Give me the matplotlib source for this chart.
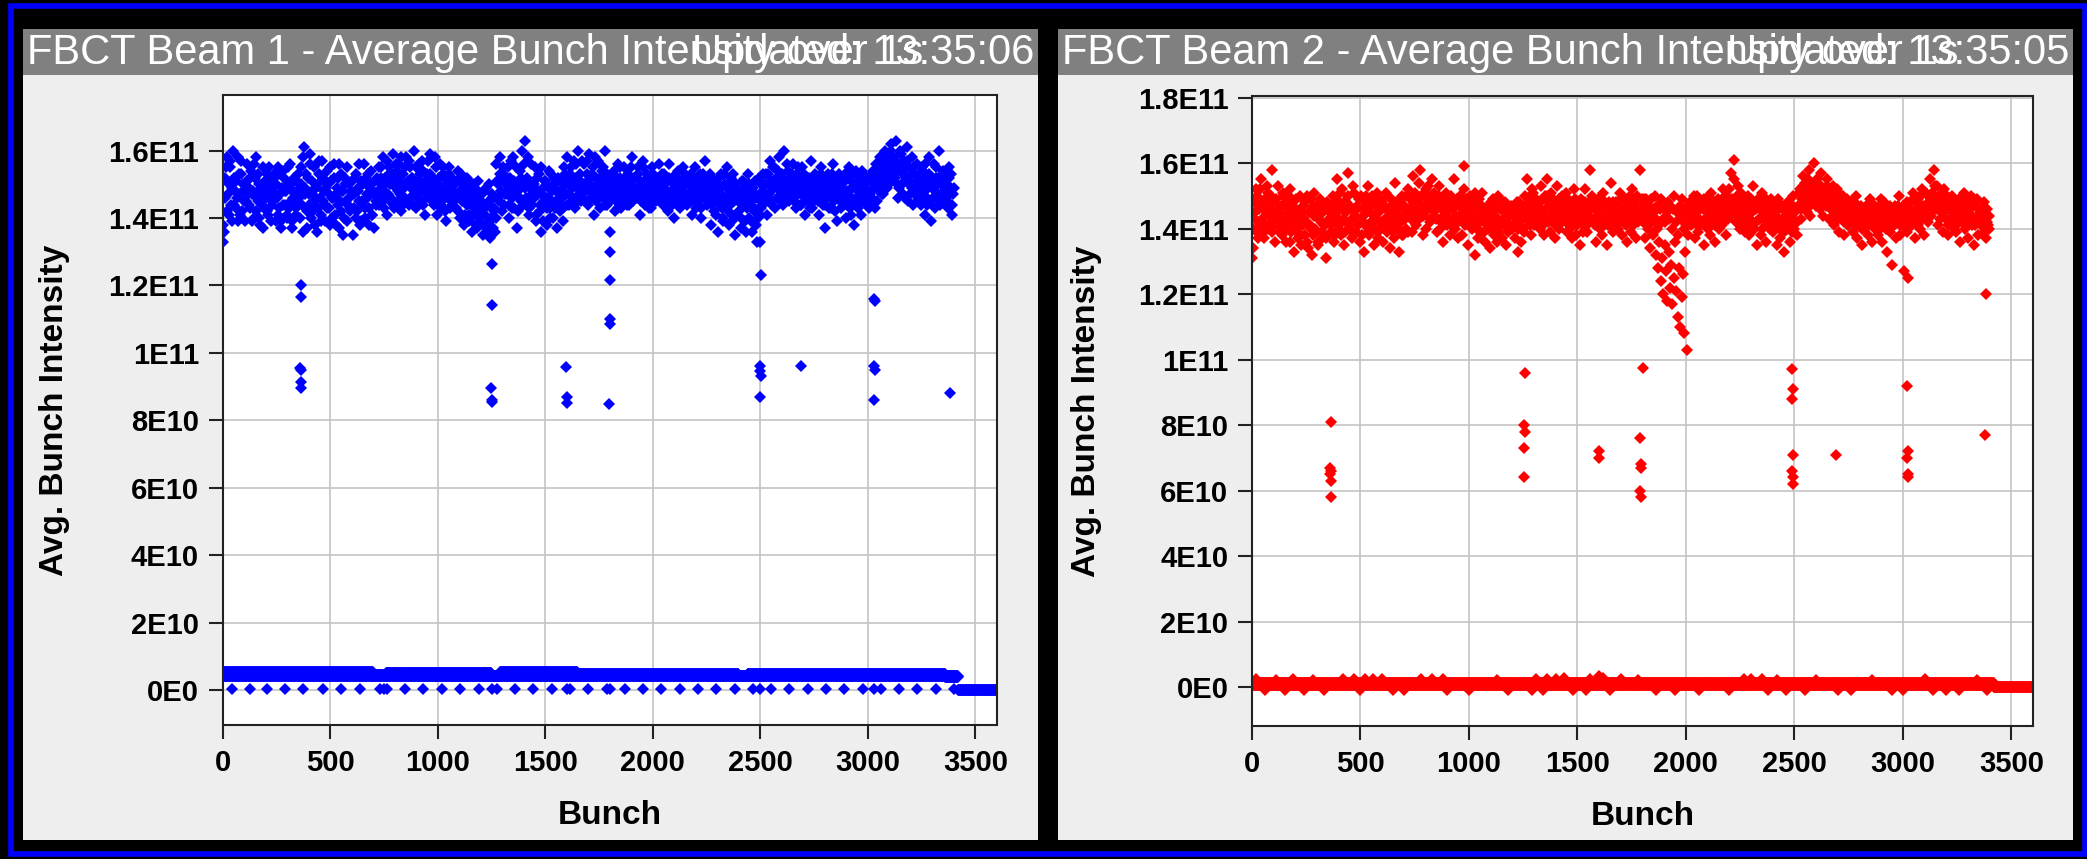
import numpy as np
import matplotlib
matplotlib.use('Agg')
import matplotlib.pyplot as plt
from matplotlib.patches import Rectangle

W, H = 2087, 859

# main band, read every 6 bunch slots in two interleaved passes (units of 1E9)
band_step = 6
b1_band = """
133 136 152 158 147 141 155 149 160 144 151 146 139 153 157 142 148 150 145 156
149 143 154 147 140 152 158 145 150 138 147 155 143 149 153 141 146 151 144 148
152 139 146 155 143 137 149 154 144 148 141 150 156 145 139 151 147 143 153 146
140 150 158 161 147 137 152 144 159 148 142 155 146 136 150 153 141 157 145 139
149 154 143 138 151 146 156 141 147 152 137 145 153 148 140 150 155 144 146 142
151 135 147 153 142 148 156 139 145 150 143 152 146 138 149 154 141 147 151 144
148 155 146 152 158 143 150 157 147 153 145 151 159 144 149 154 148 156 142 150
153 146 158 150 144 155 149 152 160 147 143 151 156 145 150 154 148 141 153 157
149 159 145 152 147 155 141 150 156 144 148 153 146 139 151 155 143 149 152 145
150 143 154 147 140 152 146 138 149 144 151 141 147 136 145 150 142 137 148 144
141 147 135 143 149 138 145 134 140 146 142 136 156 150 145 158 148 153 144 151
147 155 140 152 146 158 143 150 137 148 154 145 160 151 163 146 152 141 149 156
144 150 155 139 147 153 142 136 149 145 151 138 146 154 143 148 140 152 145 137
148 142 151 146 139 153 147 158 144 150 155 149 157 143 152 160 147 153 145 150
156 148 153 144 159 150 146 155 141 152 147 157 143 150 154 146 160 149 144 151
145 151 147 154 142 149 156 146 152 143 150 155 148 144 153 147 151 158 145 149
152 146 155 141 150 147 157 144 149 153 146 151 143 155 148 152 145 150 156 147
149 144 153 147 151 142 156 148 145 152 140 150 146 154 143 149 151 145 153 147
144 150 146 152 141 148 155 143 149 145 153 140 147 151 157 144 150 146 138 152
147 142 151 145 136 149 153 143 140 150 146 155 138 144 152 141 147 135 150 145
142 148 137 151 144 139 147 153 140 145 136 149 143 138 133 146 141 150 144 148
147 153 141 150 157 145 149 155 143 151 146 158 148 152 144 160 150 147 154 145
151 146 156 149 143 153 147 150 144 155 148 141 152 146 150 143 157 149 145 153
147 152 141 149 155 144 150 137 146 153 148 143 151 156 145 149 139 152 147 143
150 145 153 140 148 155 143 151 146 138 149 154 144 150 147 141 153 146 150 144
148 143 151 146 154 149 156 145 152 158 150 155 147 160 153 149 157 151 162 155
158 152 163 155 149 160 154 147 157 151 161 145 155 150 158 144 153 149 156 146
150 144 155 148 141 153 146 158 151 139 149 156 143 152 147 160 145 150 154 148
146 152 143 155 149 141 147
"""
b1_band_b = """
138 146 155 142 150 157 144 139 152 148 143 158 147 141 153 150 145 139 151 147
144 152 139 148 156 142 146 153 140 149 144 137 151 146 142 155 148 139 150 153
146 150 141 153 147 139 144 152 148 140 155 143 149 137 146 152 141 148 144 150
155 144 136 149 153 142 147 156 140 151 145 138 149 143 157 146 139 152 148 144
143 150 147 155 140 146 152 138 149 144 156 142 148 135 152 145 139 150 143 148
147 143 152 140 149 145 138 151 144 156 140 147 153 143 150 141 148 137 145 152
151 144 155 149 145 152 147 141 155 150 146 153 143 150 156 145 152 147 158 144
149 155 145 151 157 146 152 144 149 155 150 146 153 148 157 144 151 146 150 148
153 146 151 144 158 149 145 152 147 143 155 148 142 150 146 153 148 144 150 147
146 151 142 148 153 145 150 141 146 152 139 148 144 150 141 146 138 151 143 140
145 138 148 141 136 144 150 139 147 137 143 140 151 146 153 148 142 155 147 150
152 144 149 157 143 151 147 155 142 150 146 152 144 156 149 145 158 143 150 147
150 146 141 152 148 144 155 147 139 151 146 143 149 140 153 145 150 143 148 152
145 151 148 143 155 150 144 152 147 153 146 151 144 156 149 145 151 148 157 146
150 145 157 148 152 146 153 149 158 145 150 146 152 148 155 150 144 153 147 152
150 146 153 148 145 151 143 155 147 150 145 152 146 151 144 149 155 147 152 146
148 153 147 151 145 155 149 146 152 148 143 150 147 153 145 149 151 147 152 146
153 147 150 145 148 152 146 151 144 150 147 153 149 145 151 147 155 150 146 151
150 146 153 148 151 145 149 152 146 150 143 149 153 146 151 147 145 153 149 144
150 146 141 148 152 144 147 139 153 145 149 142 150 147 139 153 145 149 141 148
146 140 151 145 149 136 143 150 145 139 148 142 151 146 140 152 147 143 153 146
150 145 153 147 151 144 155 149 152 146 154 150 145 153 148 151 146 156 149 152
148 153 145 151 147 155 149 144 151 147 153 146 150 145 152 148 143 150 146 152
151 145 149 153 146 151 144 148 152 143 150 146 153 147 142 150 147 153 145 149
146 151 147 144 152 148 141 149 153 145 150 146 143 152 148 154 145 150 147 151
152 147 145 153 149 143 151 155 148 153 147 156 152 149 158 154 150 160 156 152
153 157 150 146 155 159 150 153 146 152 157 150 147 153 149 155 147 151 145 153
147 152 146 150 156 144 149 153 145 151 146 149 155 147 152 144 150 147 153 145
150 145 152 147 153 144 149
"""
b2_band = """
131 134 145 152 139 147 141 155 143 137 149 146 151 140 144 158 142 148 136 145
153 141 147 138 150 144 136 148 142 152 139 146 133 143 149 137 145 141 135 147
143 138 150 134 145 140 132 147 151 139 144 136 149 142 137 146 141 131 148 143
145 139 150 136 144 155 141 147 138 152 143 135 148 142 157 140 146 137 151 144
139 147 142 136 150 144 133 148 141 153 138 145 140 149 135 143 151 137 146 142
148 136 143 151 139 145 134 149 142 137 154 141 146 133 144 150 138 147 140 145
152 144 149 139 156 146 141 150 143 158 147 138 151 145 140 153 148 142 155 146
144 150 139 147 153 142 148 136 145 151 141 146 138 149 143 155 140 147 137 144
150 138 146 159 141 147 135 143 149 140 145 132 148 142 137 146 139 151 143 136
145 140 147 134 143 149 138 144 136 150 141 146 137 143 148 135 142 139 145 147
140 146 137 143 133 148 141 136 145 139 150 155 144 148 138 152 146 141 149 143
147 140 153 145 138 150 143 155 146 139 151 144 148 137 153 145 140 149 142 147
143 151 139 146 140 148 137 152 144 138 147 142 135 149 141 146 152 139 144 148
158 150 142 147 136 144 149 140 146 138 151 143 147 135 145 141 154 139 146 142
148 140 145 151 138 146 142 149 136 144 147 139 152 141 145 137 150 143 158 146
142 149 137 145 140 147 134 143 138 145 132 140 128 136 124 131 120 135 127 118
133 122 129 117 125 136 121 113 128 110 119 126 108 133 103 138 145 141 148 143
137 144 150 139 146 141 148 135 143 149 140 145 138 151 142 147 136 144 149 140
146 141 152 144 138 150 143 147 157 145 161 149 142 153 146 140 151 144 148 139
145 150 138 147 142 153 140 146 135 149 143 138 151 144 147 136 142 148 140 145
139 146 141 135 149 143 137 147 142 133 145 140 148 136 144 139 150 142 146 138
147 152 143 156 148 154 145 150 158 144 153 149 160 147 155 151 146 157 150 144
152 147 155 143 150 146 153 141 148 145 151 139 147 143 150 138 145 149 141 146
143 148 139 145 150 137 144 141 147 135 143 140 146 138 144 149 136 142 147 140
145 138 143 149 136 142 147 140 133 145 139 144 129 141 147 137 143 150 138 145
142 127 146 139 125 144 148 141 151 137 146 143 149 140 145 152 138 147 143 150
148 155 144 150 158 146 153 141 149 145 151 139 147 143 150 138 146 142 148 140
145 139 147 142 136 149 143 151 140 146 137 144 150 141 147 135 143 149 138 145
141 146 139 144 137 142 140
"""
b2_band_b = """
140 148 143 150 137 146 152 142 148 139 145 153 141 147 150 139 145 141 149 143
146 139 144 151 142 147 140 145 150 136 144 148 141 146 139 143 150 138 145 141
148 142 136 145 141 149 138 144 140 146 135 143 148 139 145 141 137 146 142 138
141 147 143 138 149 145 140 151 146 142 148 139 145 150 141 147 143 153 138 146
146 141 149 143 138 146 141 150 145 139 147 142 150 144 140 147 139 145 149 141
142 147 140 146 150 141 147 143 139 148 144 146 140 149 142 138 147 143 150 139
146 150 143 148 145 151 144 148 154 146 150 144 147 152 146 149 143 150 146 151
148 143 146 150 140 147 144 142 149 145 147 143 150 141 146 148 144 149 142 147
143 147 152 144 149 143 146 150 141 147 144 151 140 146 149 142 147 144 139 146
141 147 143 148 140 145 142 147 143 139 146 142 148 141 145 143 147 144 140 145
146 141 144 148 140 145 147 143 140 147 143 146 149 141 146 151 143 148 145 141
143 148 145 141 149 146 150 142 148 144 146 149 141 147 143 149 146 143 150 145
147 142 149 144 147 141 146 143 149 141 144 148 142 146 139 148 144 141 147 143
146 143 148 141 147 145 142 148 143 146 141 148 144 141 148 146 143 148 142 145
144 148 142 146 143 149 145 141 147 143 150 145 141 148 144 147 142 146 144 149
147 143 149 141 147 144 149 142 146 150 143 147 141 146 149 143 147 142 145 148
143 147 140 146 150 142 145 138 147 143 149 140 145 141 147 144 148 142 146 150
145 141 147 143 148 142 146 149 141 147 143 145 149 144 147 141 148 145 143 147
143 148 145 150 143 147 152 144 149 146 155 147 150 144 148 143 146 149 141 147
141 147 143 149 145 140 147 142 148 143 146 140 147 143 149 141 146 144 149 142
145 141 147 143 146 140 147 143 139 146 142 148 141 146 143 147 140 145 142 147
151 146 149 153 146 151 149 155 147 152 148 151 154 150 147 152 149 153 148 151
148 153 147 150 146 151 144 149 146 152 143 148 145 150 142 147 145 141 148 144
146 142 148 143 141 147 143 145 140 146 142 147 141 145 143 148 141 146 143 145
142 147 140 145 143 148 141 146 144 140 147 142 146 141 145 143 147 141 146 143
147 144 140 148 143 146 141 149 145 143 148 141 146 150 143 147 145 151 146 142
145 149 151 147 153 149 146 150 143 148 147 152 145 148 141 147 143 150 145 147
141 147 143 149 145 142 147 144 148 141 146 143 147 144 149 141 147 143 146 142
146 142 148 143 146 141 144
"""

# isolated low bunches (bunch number, intensity in 1E9)
b1_out_x = [366, 366, 360, 364, 366, 362, 1250, 1252, 1248, 1250, 1254, 1598, 1600, 1602,
            1800, 1800, 1802, 1800, 1802, 1798, 2500, 2502, 2498, 2500, 2502, 2496, 2690,
            3030, 3034, 3030, 3032, 3028, 3380]
b1_out_y = [120, 116.5, 95.5, 95, 91.5, 89.5, 126.5, 114.3, 89.5, 86, 85.5, 95.8, 87, 85,
            136, 130, 121.5, 110, 108.7, 84.7, 133, 123, 96, 94.5, 93, 87, 96,
            116, 115.5, 96, 95, 86, 88]
b2_out_x = [362, 360, 364, 360, 362, 364, 1259, 1256, 1258, 1254, 1256, 1598, 1600,
            1801, 1790, 1792, 1794, 1790, 1792, 2490, 2492, 2490, 2494, 2490, 2492, 2494, 2690,
            3020, 3022, 3020, 3024, 3022, 3382, 3380]
b2_out_y = [81, 67, 66, 65, 63, 58, 96, 80, 78, 73, 64, 72, 70,
            97.5, 76, 68, 67, 60, 58, 97, 91, 88, 71, 66, 64, 62, 71,
            92, 72, 70, 65, 64, 120, 77]

# empty slots: runs of (first slot, last slot, level in 1E9)
b1_low_runs = [(0, 700, 5.2), (700, 760, 4.5), (760, 1250, 5.0), (1250, 1290, 4.2),
               (1290, 1650, 5.3), (1650, 2400, 4.8), (2400, 2440, 4.2), (2440, 3360, 4.6),
               (3360, 3420, 3.9), (0, 3420, 4.0), (3420, 3600, 0.0)]
b1_zero_x = [42, 127, 205, 290, 374, 467, 552, 640, 733, 750, 765, 847, 932, 1018, 1105,
             1190, 1250, 1275, 1360, 1445, 1530, 1600, 1615, 1700, 1785, 1800, 1870, 1955,
             2040, 2125, 2210, 2295, 2380, 2465, 2500, 2550, 2635, 2720, 2805, 2890, 2975,
             3030, 3060, 3145, 3230, 3315, 3400]
b2_low_runs = [(0, 3420, 1.3), (0, 3420, 0.5), (3420, 3600, 0.0)]
b2_up_x = [20, 110, 190, 280, 420, 470, 520, 560, 600, 780, 830, 880, 1130, 1310, 1360,
           1400, 1440, 1560, 1600, 1620, 1700, 1780, 2270, 2300, 2350, 2420, 2600, 2860,
           3100, 3340]
b2_up_y = [2.4, 2.2, 2.4, 2.3, 2.6, 2.4, 2.5, 2.6, 2.4, 2.4, 2.6, 2.5, 2.3, 2.5, 2.6,
           2.4, 2.7, 2.6, 3.4, 2.8, 2.4, 2.3, 2.4, 2.5, 2.4, 2.3, 2.3, 2.2, 2.4, 2.2]
b2_down_x = [60, 150, 240, 330, 500, 650, 700, 900, 1000, 1180, 1290, 1340, 1480, 1540,
             1650, 1860, 1950, 2060, 2200, 2380, 2460, 2550, 2700, 2760, 2950, 3000, 3140,
             3200, 3260, 3390]
b2_down_y = [-0.8] * 30

xticks = [0, 500, 1000, 1500, 2000, 2500, 3000, 3500]
b1_yticks = [0, 2e10, 4e10, 6e10, 8e10, 1e11, 1.2e11, 1.4e11, 1.6e11]
b2_yticks = b1_yticks + [1.8e11]

FONT = ['Liberation Sans', 'DejaVu Sans']


def band(text, offset=0):
    vals = np.array([float(v) for v in text.split()]) * 1e9
    return np.arange(len(vals)) * band_step + offset, vals


def runs(rr, step=2):
    xs, ys = [], []
    for a, b, lev in rr:
        x = np.arange(a, b, step)
        xs.append(x)
        ys.append(np.full(len(x), lev * 1e9))
    return np.concatenate(xs), np.concatenate(ys)


def fmt(v):
    if v == 0:
        return '0E0'
    e = int(np.floor(np.log10(abs(v)) + 1e-9))
    m = v / 10 ** e
    s = ('%.1f' % m).rstrip('0').rstrip('.')
    return '%sE%d' % (s, e)


def box(x0, y0, x1, y1):
    return [x0 / W, 1 - y1 / H, (x1 - x0) / W, (y1 - y0) / H]


def panel(fig, px0, title, updated, axrect, ylim, yticks, color, series, ylab_x):
    fig.patches.append(Rectangle((px0 / W, 1 - 840 / H), 1015 / W, (840 - 29) / H,
                                 transform=fig.transFigure, facecolor='#eeeeee',
                                 edgecolor='none', zorder=-3))
    fig.patches.append(Rectangle((px0 / W, 1 - 75 / H), 1015 / W, 46 / H,
                                 transform=fig.transFigure, facecolor='#808080',
                                 edgecolor='none', zorder=-2))
    fig.text((px0 + 4) / W, 1 - 53 / H, title, color='white', fontsize=30,
             family=FONT, va='center', ha='left')
    fig.text((px0 + 1011) / W, 1 - 53 / H, updated, color='white', fontsize=30,
             family=FONT, va='center', ha='right')

    ax = fig.add_axes(box(*axrect))
    ax.set_facecolor('white')
    for x, y in series:
        ax.plot(x, y, linestyle='none', marker='D', markersize=6.3,
                markeredgewidth=0, color=color)
    ax.set_xlim(0, 3600)
    ax.set_ylim(*ylim)
    ax.set_xticks(xticks)
    ax.set_yticks(yticks)
    ax.set_yticklabels([fmt(v) for v in yticks])
    ax.grid(True, color='#c4c4c4', linewidth=1.2)
    ax.set_axisbelow(True)
    for s in ax.spines.values():
        s.set_color('#222222')
        s.set_linewidth(1.5)
    ax.tick_params(direction='out', length=10, width=1.5, color='#222222', pad=7,
                   labelsize=21)
    for lab in ax.get_xticklabels() + ax.get_yticklabels():
        lab.set_family(FONT)
        lab.set_fontweight('bold')
    ax.set_xlabel('Bunch', fontsize=24, fontweight='bold', family=FONT, labelpad=17)
    ax.set_ylabel('Avg. Bunch Intensity', fontsize=24, fontweight='bold', family=FONT)
    ax.yaxis.set_label_coords(ylab_x, 0.5)
    return ax


fig = plt.figure(figsize=(W / 100, H / 100), dpi=100)
fig.patch.set_facecolor('black')
fig.patches.append(Rectangle((10.5 / W, 1 - 854 / H), (2085 - 10.5) / W, (854 - 6) / H,
                             transform=fig.transFigure, facecolor='none',
                             edgecolor='#0000ff', linewidth=4, zorder=-4))

b1x, b1y = band(b1_band)
b1xb, b1yb = band(b1_band_b, 3)
b2x, b2y = band(b2_band)
b2xb, b2yb = band(b2_band_b, 3)
l1x, l1y = runs(b1_low_runs)
l2x, l2y = runs(b2_low_runs)

panel(fig, 23, 'FBCT Beam 1 - Average Bunch Intensity over 1s', 'Updated: 13:35:06',
      (222.7, 95, 997, 725), (-1.04e10, 1.765e11), b1_yticks, '#0000ff',
      [(b1x, b1y), (b1xb, b1yb), (np.array(b1_out_x), np.array(b1_out_y) * 1e9),
       (l1x, l1y), (np.array(b1_zero_x), np.full(len(b1_zero_x), 0.3e9))], -0.197)
panel(fig, 1058, 'FBCT Beam 2 - Average Bunch Intensity over 1s', 'Updated: 13:35:05',
      (1252, 96, 2033, 726), (-1.19e10, 1.805e11), b2_yticks, '#ff0000',
      [(b2x, b2y), (b2xb, b2yb), (np.array(b2_out_x), np.array(b2_out_y) * 1e9),
       (l2x, l2y), (np.array(b2_up_x), np.array(b2_up_y) * 1e9),
       (np.array(b2_down_x), np.array(b2_down_y) * 1e9)], -0.192)

fig.savefig('out.png', dpi=100, facecolor=fig.get_facecolor())
